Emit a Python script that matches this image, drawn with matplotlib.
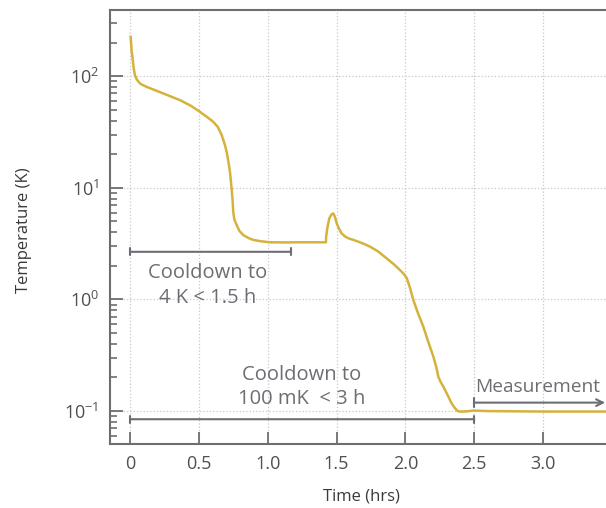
import numpy as np
import matplotlib
matplotlib.use('Agg')
import matplotlib.pyplot as plt

# Cooldown curve (time in hours, temperature in K)
time_hrs = [0.005, 0.008, 0.012, 0.019, 0.027, 0.036, 0.05, 0.073, 0.095, 0.121, 0.18,
            0.242, 0.30, 0.363, 0.44, 0.508, 0.56, 0.605, 0.638, 0.666, 0.688, 0.702,
            0.716, 0.726, 0.738, 0.745, 0.750, 0.758, 0.775, 0.795, 0.823, 0.86, 0.896,
            0.95, 1.017, 1.12, 1.235, 1.33, 1.423,
            1.424, 1.432, 1.447, 1.462, 1.476, 1.488, 1.501, 1.518, 1.537, 1.56, 1.585,
            1.62, 1.658, 1.70, 1.743, 1.80, 1.864, 1.915, 1.961, 1.99, 2.01, 2.035,
            2.057, 2.09, 2.13, 2.165, 2.203, 2.225, 2.239, 2.255, 2.275, 2.305, 2.336,
            2.355, 2.372, 2.385, 2.397, 2.45, 2.493, 2.6, 2.8, 3.0, 3.2, 3.6]
temp_k = [225, 200, 170, 144, 118, 102, 93, 86, 83, 80.2, 75,
          70, 65.5, 61, 54.5, 47.9, 43, 39, 35, 29.7, 24.5, 21,
          16.8, 13.9, 9.9, 7.8, 6.1, 5.2, 4.63, 4.1, 3.77, 3.55, 3.41,
          3.32, 3.25, 3.24, 3.25, 3.25, 3.25,
          3.6, 4.3, 5.3, 5.75, 5.9, 5.5, 4.8, 4.3, 3.9, 3.68, 3.53,
          3.42, 3.29, 3.14, 2.97, 2.7, 2.33, 2.07, 1.83, 1.68, 1.55, 1.25,
          0.99, 0.76, 0.57, 0.42, 0.307, 0.245, 0.203, 0.183, 0.166, 0.14, 0.117,
          0.108, 0.102, 0.0995, 0.0989, 0.0995, 0.101, 0.1, 0.0995, 0.099, 0.099, 0.099]

# annotation spans
cool4k_span = [0.0, 1.17]
cool100mk_span = [0.0, 2.5]
measure_span = [2.5, 3.45]

xticks = [0, 0.5, 1.0, 1.5, 2.0, 2.5, 3.0]
xticklabels = ['0', '0.5', '1.0', '1.5', '2.0', '2.5', '3.0']

plt.rcParams['font.family'] = ['Open Sans', 'DejaVu Sans']
plt.rcParams['mathtext.fontset'] = 'custom'
plt.rcParams['mathtext.rm'] = 'Open Sans'
plt.rcParams['mathtext.it'] = 'Open Sans'

gray = '#6b6e73'
axis_gray = '#6e6e6e'
curve_color = '#d4b23c'

fig = plt.figure(figsize=(6.06, 5.08), dpi=100)
# axes runs past the right edge of the figure, like the cropped original
ax = fig.add_axes([0.1815, 0.126, 0.95, 0.854])

ax.plot(time_hrs, temp_k, color=curve_color, lw=1.8, solid_joinstyle='round')
ax.set_yscale('log')
ax.set_xlim(-0.145, 4.035)
ax.set_ylim(0.0507, 390)

ax.set_xticks(xticks)
ax.set_xticklabels(xticklabels)
ax.grid(True, which='major', linestyle=':', color='#c8c8c8', lw=0.9)

ax.tick_params(which='major', direction='in', length=9, width=1.3, color=axis_gray,
               labelsize=13, labelcolor='#505050', pad=8)
ax.tick_params(which='minor', direction='in', length=5, width=1.2, color=axis_gray)
ax.tick_params(axis='x', which='minor', bottom=False)
for s in ax.spines.values():
    s.set_color(axis_gray)
    s.set_linewidth(1.5)

ax.set_xlabel('Time (hrs)', fontsize=12, color='#3a3a3a')
ax.set_ylabel('Temperature (K)', fontsize=12, color='#3a3a3a')
ax.xaxis.set_label_coords(0.436, -0.103)
ax.yaxis.set_label_coords(-0.136, 0.493)

# Cooldown to 4 K bracket
ax.annotate('', xy=(cool4k_span[0], 2.67), xytext=(cool4k_span[1], 2.67),
            arrowprops=dict(arrowstyle='|-|, widthA=0.25, widthB=0.25', color=gray, lw=1.5,
                            shrinkA=0, shrinkB=0))
ax.text(0.566, 1.33, 'Cooldown to\n4 K < 1.5 h', ha='center', va='center',
        fontsize=14.5, color=gray, linespacing=1.3)

# Cooldown to 100 mK bracket
ax.annotate('', xy=(cool100mk_span[0], 0.0845), xytext=(cool100mk_span[1], 0.0845),
            arrowprops=dict(arrowstyle='|-|, widthA=0.25, widthB=0.25', color=gray, lw=1.5,
                            shrinkA=0, shrinkB=0))
ax.text(1.25, 0.165, 'Cooldown to\n100 mK  < 3 h', ha='center', va='center',
        fontsize=14.5, color=gray, linespacing=1.3)

# Measurement arrow
ax.annotate('', xy=(measure_span[1], 0.119), xytext=(measure_span[0], 0.119),
            arrowprops=dict(arrowstyle=']->, widthA=0.25, lengthA=0', mutation_scale=12,
                            color=gray, lw=1.5, shrinkA=0, shrinkB=0))
ax.text(2.505, 0.165, 'Measurement', ha='left', va='center', fontsize=13.8, color=gray)

plt.savefig('out.png', dpi=100)
